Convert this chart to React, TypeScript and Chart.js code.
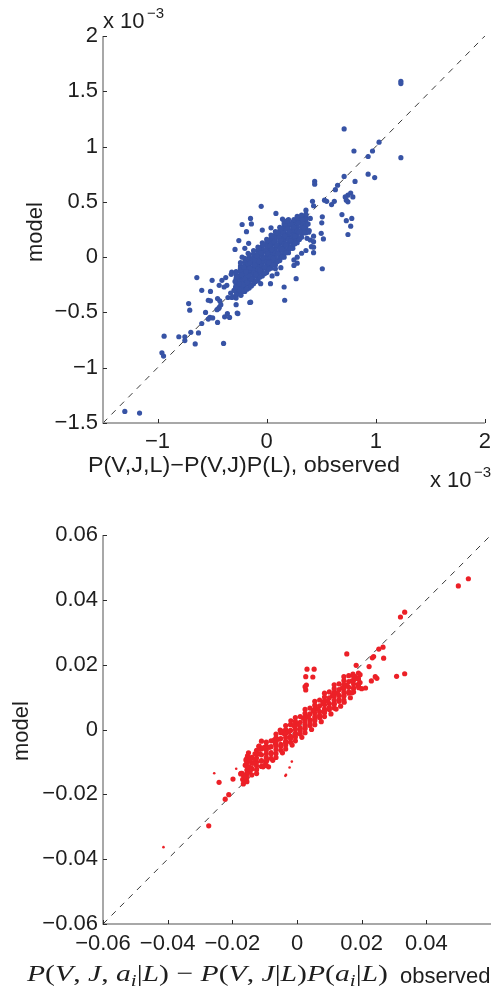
import React, { useEffect, useRef } from 'react';
import { Chart, registerables } from 'chart.js';
Chart.register(...registerables);

const SANS = "'Liberation Sans', Arial, Helvetica, sans-serif";
const SERIF = "'Liberation Serif', 'DejaVu Serif', serif";

// ---------- Top panel (values in units of 10^-3) ----------
const topLimits = [-1.5, 2];
const topXTicks = [-1, 0, 1, 2];
const topXTickLabels = ['\u22121', '0', '1', '2'];
const topYTicks = [-1.5, -1, -0.5, 0, 0.5, 1, 1.5, 2];
const topYTickLabels = ['\u22121.5', '\u22121', '\u22120.5', '0', '0.5', '1', '1.5', '2'];

const topOutliers: [number, number][] = [
  [1.23, 1.59], [1.23, 1.57], [0.71, 1.16], [1.03, 1.04], [0.8, 0.96], [0.97, 0.96], [0.93, 0.91], [1.23, 0.9],
  [0.71, 0.73], [0.93, 0.75], [0.99, 0.72], [0.81, 0.685], [0.44, 0.685], [0.44, 0.66], [0.65, 0.65], [0.63, 0.61],
  [0.77, 0.58], [0.745, 0.56], [0.72, 0.545], [0.79, 0.545], [0.73, 0.515], [0.745, 0.5], [-0.05, 0.46], [0.53, 0.515],
  [0.55, 0.505], [0.62, 0.505], [0.595, 0.475], [0.42, 0.505], [0.43, 0.465], [0.69, 0.385], [0.78, 0.35], [0.73, 0.33],
  [0.77, 0.28], [0.745, 0.205], [0.51, 0.365], [0.505, 0.31], [0.5, 0.215], [0.52, 0.165], [0.43, 0.19], [0.43, 0.09],
  [0.085, 0.395], [-0.148, 0.35], [0.145, 0.345], [0.16, 0.325], [0.19, 0.33], [0.25, 0.34], [0.28, 0.355], [0.32, 0.38],
  [0.36, 0.425], [-0.04, 0.245], [0.04, 0.265], [-0.14, 0.3], [0.385, 0.225], [0.37, 0.17], [0.4, 0.155], [0.43, 0.04],
  [0.51, -0.105], [0.27, -0.195], [0.05, -0.17], [0.13, -0.095], [0.08, -0.105], [0.25, -0.075], [0.28, 0.0], [0.32, 0.035],
  [0.16, -0.27], [0.165, -0.39], [-0.147, -0.407], [-0.264, -0.51], [0.095, -0.15], [0.36, 0.06], [0.41, 0.095], [0.43, 0.14],
  [0.28, -0.055], [0.25, -0.025], [-0.055, -0.24], [0.035, -0.24], [-0.235, -0.345], [-0.25, -0.3],
  [-0.225, 0.295], [-0.185, 0.23], [-0.255, 0.15], [-0.29, 0.07], [-0.165, 0.125], [-0.2, 0.08], [-0.17, 0.035], [-0.225, 0.0],
  [-0.64, -0.185], [-0.5, -0.21], [-0.41, -0.21], [-0.375, -0.185], [-0.435, -0.255], [-0.39, -0.27], [-0.365, -0.255],
  [-0.595, -0.3], [-0.515, -0.31], [-0.32, -0.135], [-0.325, -0.155], [-0.275, -0.18], [-0.25, -0.24], [-0.285, -0.27],
  [-0.33, -0.325], [-0.355, -0.365], [-0.32, -0.365], [-0.535, -0.39], [-0.515, -0.395], [-0.45, -0.375], [-0.43, -0.395],
  [-0.42, -0.43], [-0.435, -0.455], [-0.28, -0.43], [-0.155, -0.41], [-0.715, -0.42], [-0.705, -0.48], [-0.56, -0.5],
  [-0.52, -0.545], [-0.535, -0.56], [-0.495, -0.55], [-0.455, -0.475], [-0.44, -0.465], [-0.385, -0.54], [-0.36, -0.51],
  [-0.34, -0.545], [-0.27, -0.505], [-0.45, -0.59], [-0.595, -0.6], [-0.695, -0.68], [-0.625, -0.685], [-0.75, -0.72],
  [-0.94, -0.715], [-0.96, -0.865], [-0.945, -0.895], [-1.3, -1.395], [-1.165, -1.41], [-0.395, -0.78], [-0.655, -0.785],
  [-0.75, -0.755], [-0.805, -0.72],
];

const topCore: [number, number][] = [
  [-0.3, -0.3], [-0.29, -0.22], [-0.31, -0.36], [-0.26, -0.18], [-0.27, -0.26], [-0.25, -0.33], [-0.24, -0.12],
  [-0.22, -0.25], [-0.23, -0.16], [-0.21, -0.09], [-0.22, -0.31], [-0.2, -0.2], [-0.18, -0.23], [-0.19, -0.13],
  [-0.17, -0.06], [-0.18, -0.29], [-0.16, -0.17], [-0.14, -0.2], [-0.15, -0.1], [-0.13, -0.02], [-0.14, -0.26],
  [-0.12, -0.14], [-0.15, -0.05], [-0.1, -0.16], [-0.11, -0.07], [-0.09, 0.01], [-0.1, -0.22], [-0.08, -0.11],
  [-0.11, -0.03], [-0.06, -0.12], [-0.07, -0.04], [-0.05, 0.04], [-0.06, -0.18], [-0.04, -0.08], [-0.07, 0.08],
  [-0.02, -0.09], [-0.03, -0.01], [-0.01, 0.06], [-0.02, -0.15], [0.0, -0.04], [-0.03, 0.11], [0.02, -0.05],
  [0.01, 0.03], [0.03, 0.1], [0.02, -0.11], [0.04, 0.0], [0.01, 0.15], [0.06, -0.01], [0.05, 0.07], [0.07, 0.14],
  [0.06, -0.07], [0.08, 0.04], [0.05, 0.19], [0.1, 0.03], [0.09, 0.11], [0.11, 0.18], [0.1, -0.04], [0.12, 0.08],
  [0.09, 0.22], [0.14, 0.07], [0.13, 0.15], [0.15, 0.22], [0.14, 0.0], [0.16, 0.12], [0.13, 0.26], [0.18, 0.11],
  [0.17, 0.19], [0.19, 0.26], [0.18, 0.04], [0.2, 0.16], [0.17, 0.3], [0.22, 0.15], [0.21, 0.23], [0.23, 0.3],
  [0.22, 0.08], [0.24, 0.2], [0.26, 0.19], [0.25, 0.27], [0.27, 0.33], [0.26, 0.12], [0.28, 0.24], [0.3, 0.23],
  [0.29, 0.31], [0.31, 0.36], [0.3, 0.16], [0.34, 0.27], [0.33, 0.34], [0.35, 0.22], [0.36, 0.3], [0.38, 0.3],
  [0.39, 0.24], [0.4, 0.35],
];

const topCoreFill: [number, number][] = [
  [-0.28, -0.37], [-0.28, -0.31], [-0.28, -0.25], [-0.28, -0.19], [-0.28, -0.13],
  [-0.24, -0.34], [-0.24, -0.28], [-0.24, -0.22], [-0.24, -0.16], [-0.24, -0.1], [-0.24, -0.05],
  [-0.2, -0.31], [-0.2, -0.25], [-0.2, -0.19], [-0.2, -0.13], [-0.2, -0.07], [-0.2, -0.01],
  [-0.16, -0.28], [-0.16, -0.22], [-0.16, -0.16], [-0.16, -0.1], [-0.16, -0.04], [-0.16, 0.02],
  [-0.12, -0.24], [-0.12, -0.18], [-0.12, -0.12], [-0.12, -0.06], [-0.12, 0.0], [-0.12, 0.06],
  [-0.08, -0.21], [-0.08, -0.15], [-0.08, -0.09], [-0.08, -0.03], [-0.08, 0.03], [-0.08, 0.09],
  [-0.04, -0.17], [-0.04, -0.11], [-0.04, -0.05], [-0.04, 0.01], [-0.04, 0.07], [-0.04, 0.13],
  [0.0, -0.14], [0.0, -0.08], [0.0, -0.02], [0.0, 0.04], [0.0, 0.1], [0.0, 0.16],
  [0.04, -0.1], [0.04, -0.04], [0.04, 0.02], [0.04, 0.08], [0.04, 0.14], [0.04, 0.2],
  [0.08, -0.07], [0.08, -0.01], [0.08, 0.05], [0.08, 0.11], [0.08, 0.17], [0.08, 0.23],
  [0.12, -0.03], [0.12, 0.03], [0.12, 0.09], [0.12, 0.15], [0.12, 0.21], [0.12, 0.27],
  [0.16, 0.0], [0.16, 0.06], [0.16, 0.12], [0.16, 0.18], [0.16, 0.24], [0.16, 0.3],
  [0.2, 0.04], [0.2, 0.1], [0.2, 0.16], [0.2, 0.22], [0.2, 0.28], [0.2, 0.34],
  [0.24, 0.08], [0.24, 0.14], [0.24, 0.2], [0.24, 0.26], [0.24, 0.32],
  [0.28, 0.13], [0.28, 0.19], [0.28, 0.25], [0.28, 0.31], [0.28, 0.37],
  [0.32, 0.18], [0.32, 0.24], [0.32, 0.3], [0.32, 0.36],
  [0.36, 0.22], [0.36, 0.28], [0.36, 0.34], [0.36, 0.39],
];

const topCoreFill2: [number, number][] = [
  [-0.28, -0.34], [-0.28, -0.28], [-0.28, -0.22], [-0.28, -0.16],
  [-0.24, -0.31], [-0.24, -0.25], [-0.24, -0.19], [-0.24, -0.13], [-0.24, -0.08],
  [-0.2, -0.28], [-0.2, -0.22], [-0.2, -0.16], [-0.2, -0.1], [-0.2, -0.04],
  [-0.16, -0.25], [-0.16, -0.19], [-0.16, -0.13], [-0.16, -0.07], [-0.16, -0.01],
  [-0.12, -0.21], [-0.12, -0.15], [-0.12, -0.09], [-0.12, -0.03], [-0.12, 0.03],
  [-0.08, -0.18], [-0.08, -0.12], [-0.08, -0.06], [-0.08, 0.0], [-0.08, 0.06],
  [-0.04, -0.14], [-0.04, -0.08], [-0.04, -0.02], [-0.04, 0.04], [-0.04, 0.1],
  [0.0, -0.11], [0.0, -0.05], [0.0, 0.01], [0.0, 0.07], [0.0, 0.13],
  [0.04, -0.07], [0.04, -0.01], [0.04, 0.05], [0.04, 0.11], [0.04, 0.17],
  [0.08, -0.04], [0.08, 0.02], [0.08, 0.08], [0.08, 0.14], [0.08, 0.2],
  [0.12, 0.0], [0.12, 0.06], [0.12, 0.12], [0.12, 0.18], [0.12, 0.24],
  [0.16, 0.03], [0.16, 0.09], [0.16, 0.15], [0.16, 0.21], [0.16, 0.27],
  [0.2, 0.07], [0.2, 0.13], [0.2, 0.19], [0.2, 0.25], [0.2, 0.31],
  [0.24, 0.11], [0.24, 0.17], [0.24, 0.23], [0.24, 0.29],
  [0.28, 0.16], [0.28, 0.22], [0.28, 0.28], [0.28, 0.34],
  [0.32, 0.21], [0.32, 0.27], [0.32, 0.33],
  [0.36, 0.25], [0.36, 0.31], [0.36, 0.37],
];

// ---------- Bottom panel ----------
const botLimits = [-0.06, 0.06];
const botXTicks = [-0.06, -0.04, -0.02, 0, 0.02, 0.04];
const botXTickLabels = ['\u22120.06', '\u22120.04', '\u22120.02', '0', '0.02', '0.04'];
const botYTicks = [-0.06, -0.04, -0.02, 0, 0.02, 0.04, 0.06];
const botYTickLabels = ['\u22120.06', '\u22120.04', '\u22120.02', '0', '0.02', '0.04', '0.06'];

const botOutliers: [number, number][] = [
  [0.053, 0.0465], [0.0499, 0.0443], [0.0333, 0.0362], [0.032, 0.0347], [0.0266, 0.0254], [0.0253, 0.0248],
  [0.0237, 0.0225], [0.0233, 0.0221], [0.0268, 0.022], [0.0154, 0.0233], [0.0183, 0.0198], [0.0223, 0.0194],
  [0.0242, 0.0163], [0.0247, 0.0158], [0.0308, 0.0164], [0.0333, 0.0172], [0.023, 0.015], [0.0212, 0.0128],
  [0.019, 0.0134], [0.0191, 0.0129], [0.017, 0.0113], [0.0146, 0.0084], [0.0121, 0.0063], [0.0031, 0.0186],
  [0.0053, 0.0186], [0.0027, 0.0163], [0.0049, 0.0162], [0.0029, 0.0137], [0.0025, 0.0132], [0.0027, 0.0122],
  [0.0173, 0.0171], [0.018, 0.0163], [0.019, 0.0156], [-0.0019, 0.0027], [-0.0052, -0.0002], [-0.0044, -0.0006],
  [-0.011, -0.0036], [-0.0117, -0.0051], [-0.015, -0.0072], [-0.007, -0.0032], [-0.0067, -0.0043],
  [-0.0118, -0.0052], [-0.0115, -0.0061], [-0.0106, -0.0057], [-0.0153, -0.0081], [-0.0158, -0.0094],
  [-0.0145, -0.0094], [-0.0129, -0.0092], [-0.0134, -0.0104], [-0.0148, -0.0115], [-0.0145, -0.0127],
  [-0.0152, -0.0132], [-0.0173, -0.0135], [-0.0166, -0.014], [-0.0198, -0.0153], [-0.0241, -0.0163],
  [-0.0163, -0.0158], [-0.0166, -0.0168], [-0.0093, -0.0094], [-0.0088, -0.0115], [-0.0099, -0.011],
  [-0.0211, -0.0201], [-0.0222, -0.0215], [-0.0273, -0.0297], [-0.0174, -0.0137], [-0.0168, -0.0154],
  [-0.0163, -0.0161], [-0.0161, -0.0146],
];

const botCore: [number, number][] = [
  [-0.017, -0.0135], [-0.016, -0.011], [-0.014, -0.012], [-0.0145, -0.0095], [-0.013, -0.0075],
  [-0.011, -0.0098], [-0.0115, -0.0075], [-0.01, -0.0055], [-0.0105, -0.0115], [-0.008, -0.0075],
  [-0.0085, -0.0055], [-0.007, -0.0035], [-0.0075, -0.0095], [-0.005, -0.0052], [-0.0055, -0.003],
  [-0.004, -0.0012], [-0.0045, -0.0072], [-0.0035, -0.004], [-0.002, -0.0028], [-0.0025, -0.0008],
  [-0.001, 0.0012], [-0.0015, -0.0048], [-0.0005, -0.0015], [0.001, -0.0004], [0.0005, 0.0016],
  [0.002, 0.0035], [0.0015, -0.0024], [0.0025, 0.0008], [0.004, 0.002], [0.0035, 0.004], [0.005, 0.0058],
  [0.0045, 0.0], [0.0055, 0.0032], [0.007, 0.0044], [0.0065, 0.0064], [0.008, 0.0082], [0.0075, 0.0024],
  [0.0085, 0.0056], [0.01, 0.0068], [0.0095, 0.0088], [0.011, 0.0105], [0.0105, 0.0048], [0.0115, 0.008],
  [0.013, 0.0092], [0.0125, 0.0112], [0.014, 0.0128], [0.0135, 0.0072], [0.0145, 0.0104], [0.016, 0.0116],
  [0.0155, 0.0136], [0.017, 0.015], [0.0165, 0.0098], [0.0175, 0.0128], [0.019, 0.014], [0.0185, 0.0158],
  [0.02, 0.0126],
];

const botCoreFill: [number, number][] = [
  [-0.0155, -0.0161], [-0.0155, -0.0137], [-0.0155, -0.0113], [-0.0155, -0.0089],
  [-0.0125, -0.0136], [-0.0125, -0.0112], [-0.0125, -0.0088], [-0.0125, -0.0064],
  [-0.0095, -0.0111], [-0.0095, -0.0087], [-0.0095, -0.0063], [-0.0095, -0.0039],
  [-0.0065, -0.0086], [-0.0065, -0.0062], [-0.0065, -0.0038], [-0.0065, -0.0014],
  [-0.0035, -0.006], [-0.0035, -0.0036], [-0.0035, -0.0012], [-0.0035, 0.0012],
  [-0.0005, -0.0035], [-0.0005, -0.0011], [-0.0005, 0.0013], [-0.0005, 0.0037],
  [0.0025, -0.001], [0.0025, 0.0014], [0.0025, 0.0038], [0.0025, 0.0062],
  [0.0055, 0.0015], [0.0055, 0.0039], [0.0055, 0.0063], [0.0055, 0.0087],
  [0.0085, 0.004], [0.0085, 0.0064], [0.0085, 0.0088], [0.0085, 0.0112],
  [0.0115, 0.0066], [0.0115, 0.009], [0.0115, 0.0114], [0.0115, 0.0138],
  [0.0145, 0.0091], [0.0145, 0.0115], [0.0145, 0.0139], [0.0145, 0.0163],
  [0.0175, 0.0116], [0.0175, 0.014], [0.0175, 0.0164],
  [0.0195, 0.0145], [0.0195, 0.0169],
];

const botCoreFill2: [number, number][] = [
  [-0.0155, -0.0149], [-0.0155, -0.0125], [-0.0155, -0.0101],
  [-0.0125, -0.0124], [-0.0125, -0.01], [-0.0125, -0.0076],
  [-0.0095, -0.0099], [-0.0095, -0.0075], [-0.0095, -0.0051],
  [-0.0065, -0.0074], [-0.0065, -0.005], [-0.0065, -0.0026],
  [-0.0035, -0.0048], [-0.0035, -0.0024], [-0.0035, 0.0],
  [-0.0005, -0.0023], [-0.0005, 0.0001], [-0.0005, 0.0025],
  [0.0025, 0.0002], [0.0025, 0.0026], [0.0025, 0.005],
  [0.0055, 0.0027], [0.0055, 0.0051], [0.0055, 0.0075],
  [0.0085, 0.0052], [0.0085, 0.0076], [0.0085, 0.01],
  [0.0115, 0.0078], [0.0115, 0.0102], [0.0115, 0.0126],
  [0.0145, 0.0103], [0.0145, 0.0127], [0.0145, 0.0151],
  [0.0175, 0.0128], [0.0175, 0.0152],
];

const botCoreFill3: [number, number][] = [
  [-0.014, -0.014], [-0.014, -0.0122], [-0.014, -0.0104], [-0.014, -0.0086],
  [-0.011, -0.0114], [-0.011, -0.0096], [-0.011, -0.0078], [-0.011, -0.006],
  [-0.008, -0.0089], [-0.008, -0.0071], [-0.008, -0.0053], [-0.008, -0.0035],
  [-0.005, -0.0064], [-0.005, -0.0046], [-0.005, -0.0028], [-0.005, -0.001],
  [-0.002, -0.0039], [-0.002, -0.0021], [-0.002, -0.0003], [-0.002, 0.0015],
  [0.001, -0.0014], [0.001, 0.0004], [0.001, 0.0022], [0.001, 0.004],
  [0.004, 0.0012], [0.004, 0.003], [0.004, 0.0048], [0.004, 0.0066],
  [0.007, 0.0037], [0.007, 0.0055], [0.007, 0.0073], [0.007, 0.0091],
  [0.01, 0.0062], [0.01, 0.008], [0.01, 0.0098], [0.01, 0.0116],
  [0.013, 0.0087], [0.013, 0.0105], [0.013, 0.0123], [0.013, 0.0141],
  [0.016, 0.0112], [0.016, 0.013], [0.016, 0.0148], [0.016, 0.0166],
  [0.019, 0.0138], [0.019, 0.0156], [0.019, 0.0174],
];

const botSmall: [number, number][] = [
  [-0.0413, -0.0363], [-0.0256, -0.0135], [-0.0188, -0.0121], [-0.0023, -0.0117], [-0.0016, -0.0099],
  [-0.0036, -0.0143], [-0.0034, -0.014],
];

type Run = { t: string; it?: boolean; sub?: boolean };
const botMathLabel: Run[] = [
  { t: 'P', it: true }, { t: '(' }, { t: 'V', it: true }, { t: ', ' }, { t: 'J', it: true }, { t: ', ' },
  { t: 'a', it: true }, { t: 'i', it: true, sub: true }, { t: '|' }, { t: 'L', it: true }, { t: ') \u2212 ' },
  { t: 'P', it: true }, { t: '(' }, { t: 'V', it: true }, { t: ', ' }, { t: 'J', it: true }, { t: '|' },
  { t: 'L', it: true }, { t: ')' }, { t: 'P', it: true }, { t: '(' }, { t: 'a', it: true },
  { t: 'i', it: true, sub: true }, { t: '|' }, { t: 'L', it: true }, { t: ')' },
];

const TEXT = '#1e1e1e';
const AXIS = '#8c8c8c';

function drawMath(ctx: CanvasRenderingContext2D, runs: Run[], x0: number, x1: number, base: number) {
  const size = 24;
  const fontOf = (r: Run, s: number) => `${r.it ? 'italic ' : ''}${r.sub ? Math.round(s * 0.7) : s}px ${SERIF}`;
  let w = 0;
  for (const r of runs) { ctx.font = fontOf(r, size); w += ctx.measureText(r.t).width; }
  const s = (x1 - x0) / w;
  ctx.save();
  ctx.translate(x0, base);
  ctx.scale(s, 1);
  let x = 0;
  ctx.textAlign = 'left';
  ctx.textBaseline = 'alphabetic';
  for (const r of runs) {
    ctx.font = fontOf(r, size);
    ctx.fillText(r.t, x, r.sub ? 5 : 0);
    x += ctx.measureText(r.t).width;
  }
  ctx.restore();
}

function fitText(ctx: CanvasRenderingContext2D, text: string, x0: number, x1: number, base: number, font: string) {
  ctx.font = font;
  const w = ctx.measureText(text).width;
  ctx.save();
  ctx.translate(x0, base);
  ctx.scale((x1 - x0) / w, 1);
  ctx.textAlign = 'left';
  ctx.textBaseline = 'alphabetic';
  ctx.fillText(text, 0, 0);
  ctx.restore();
}

type PanelCfg = {
  lim: number[];
  xTicks: number[]; xLabels: string[];
  yTicks: number[]; yLabels: string[];
  padTop: number; xAxisH: number; xPad: number;
  decorate: (ctx: CanvasRenderingContext2D) => void;
  datasets: any[];
};

function buildChart(canvas: HTMLCanvasElement, cfg: PanelCfg) {
  const decor = {
    id: 'decor',
    afterDraw(chart: any) {
      const ctx: CanvasRenderingContext2D = chart.ctx;
      const { left, right, top, bottom } = chart.chartArea;
      const xs = chart.scales.x, ys = chart.scales.y;
      ctx.save();
      ctx.strokeStyle = AXIS;
      ctx.lineWidth = 1.5;
      ctx.beginPath();
      ctx.moveTo(left, top);
      ctx.lineTo(left, bottom);
      ctx.lineTo(right, bottom);
      ctx.stroke();
      ctx.strokeStyle = '#2a2a2a';
      ctx.lineWidth = 1;
      for (const v of cfg.xTicks) {
        const px = Math.round(xs.getPixelForValue(v)) + 0.5;
        ctx.beginPath(); ctx.moveTo(px, bottom); ctx.lineTo(px, bottom - 4); ctx.stroke();
      }
      for (const v of cfg.yTicks) {
        const py = Math.round(ys.getPixelForValue(v)) + 0.5;
        ctx.beginPath(); ctx.moveTo(left, py); ctx.lineTo(left + 4, py); ctx.stroke();
      }
      ctx.fillStyle = TEXT;
      cfg.decorate(ctx);
      ctx.restore();
    },
  };
  const tickFont = { family: SANS, size: 22 };
  return new Chart(canvas, {
    type: 'scatter',
    data: { datasets: cfg.datasets },
    options: {
      animation: false,
      responsive: false,
      events: [],
      layout: { padding: { top: cfg.padTop, right: 6, left: 0, bottom: 0 } },
      plugins: { legend: { display: false }, tooltip: { enabled: false } },
      scales: {
        x: {
          type: 'linear', min: cfg.lim[0], max: cfg.lim[1],
          grid: { display: false, drawTicks: false },
          border: { display: false },
          afterBuildTicks: (s: any) => { s.ticks = cfg.xTicks.map((v) => ({ value: v })); },
          afterFit: (s: any) => { s.height = cfg.xAxisH; },
          ticks: {
            autoSkip: false, maxRotation: 0, minRotation: 0, padding: cfg.xPad, color: TEXT, font: tickFont,
            callback: (_v: any, i: number) => cfg.xLabels[i],
          },
        },
        y: {
          type: 'linear', min: cfg.lim[0], max: cfg.lim[1],
          grid: { display: false, drawTicks: false },
          border: { display: false },
          afterBuildTicks: (s: any) => { s.ticks = cfg.yTicks.map((v) => ({ value: v })); },
          afterFit: (s: any) => { s.width = 103; },
          ticks: {
            autoSkip: false, padding: 5, color: TEXT, font: tickFont,
            callback: (_v: any, i: number) => cfg.yLabels[i],
          },
        },
      },
    } as any,
    plugins: [decor],
  });
}

const pts = (a: [number, number][]) => a.map(([x, y]) => ({ x, y }));

function dotSet(data: [number, number][], color: string, r: number) {
  return { data: pts(data), backgroundColor: color, borderWidth: 0, pointRadius: r, pointHoverRadius: r, showLine: false };
}
function diagSet(lim: number[]) {
  return {
    data: [{ x: lim[0], y: lim[0] }, { x: lim[1], y: lim[1] }],
    showLine: true, borderColor: '#3a3a3a', borderWidth: 1, borderDash: [6, 6], pointRadius: 0, fill: false,
  };
}

export default function App() {
  const topRef = useRef<HTMLCanvasElement>(null);
  const botRef = useRef<HTMLCanvasElement>(null);

  useEffect(() => {
    const blue = '#3753a5';
    const red = '#ec2027';
    const top = buildChart(topRef.current!, {
      lim: topLimits, xTicks: topXTicks, xLabels: topXTickLabels, yTicks: topYTicks, yLabels: topYTickLabels,
      padTop: 36, xAxisH: 74, xPad: 6,
      datasets: [
        dotSet(topOutliers, blue, 2.6), dotSet(topCore, blue, 2.6), dotSet(topCoreFill, blue, 2.6),
        dotSet(topCoreFill2, blue, 2.6), diagSet(topLimits),
      ],
      decorate: (ctx) => {
        ctx.textBaseline = 'alphabetic';
        ctx.textAlign = 'left';
        ctx.font = `22px ${SANS}`;
        ctx.fillText('x 10', 103, 28);
        ctx.font = `15px ${SANS}`;
        ctx.fillText('\u22123', 147, 18);
        ctx.font = `22px ${SANS}`;
        ctx.fillText('x 10', 430, 487);
        ctx.font = `15px ${SANS}`;
        ctx.fillText('\u22123', 474, 477);
        fitText(ctx, 'P(V,J,L)\u2212P(V,J)P(L), observed', 88, 400, 472, `22px ${SANS}`);
        ctx.font = `22px ${SANS}`;
        ctx.save();
        ctx.translate(42, 232);
        ctx.rotate(-Math.PI / 2);
        ctx.textAlign = 'center';
        ctx.fillText('model', 0, 0);
        ctx.restore();
      },
    });
    const bot = buildChart(botRef.current!, {
      lim: botLimits, xTicks: botXTicks, xLabels: botXTickLabels, yTicks: botYTicks, yLabels: botYTickLabels,
      padTop: 38, xAxisH: 70, xPad: 7,
      datasets: [
        dotSet(botOutliers, red, 2.6), dotSet(botCore, red, 2.6), dotSet(botCoreFill, red, 2.6),
        dotSet(botCoreFill2, red, 2.6), dotSet(botCoreFill3, red, 2.6), dotSet(botSmall, red, 1.3),
        diagSet(botLimits),
      ],
      decorate: (ctx) => {
        ctx.textBaseline = 'alphabetic';
        drawMath(ctx, botMathLabel, 27, 388, 484);
        ctx.textAlign = 'left';
        ctx.font = `22px ${SANS}`;
        ctx.fillText('observed', 400, 486);
        ctx.save();
        ctx.translate(28, 234);
        ctx.rotate(-Math.PI / 2);
        ctx.textAlign = 'center';
        ctx.fillText('model', 0, 0);
        ctx.restore();
      },
    });
    return () => { top.destroy(); bot.destroy(); };
  }, []);

  return (
    <div style={{ position: 'absolute', left: 0, top: 0, width: 497, height: 994, background: '#fff' }}>
      <canvas ref={topRef} width={497} height={497} style={{ position: 'absolute', left: 0, top: 0, display: 'block' }} />
      <canvas ref={botRef} width={497} height={497} style={{ position: 'absolute', left: 0, top: 497, display: 'block' }} />
    </div>
  );
}
